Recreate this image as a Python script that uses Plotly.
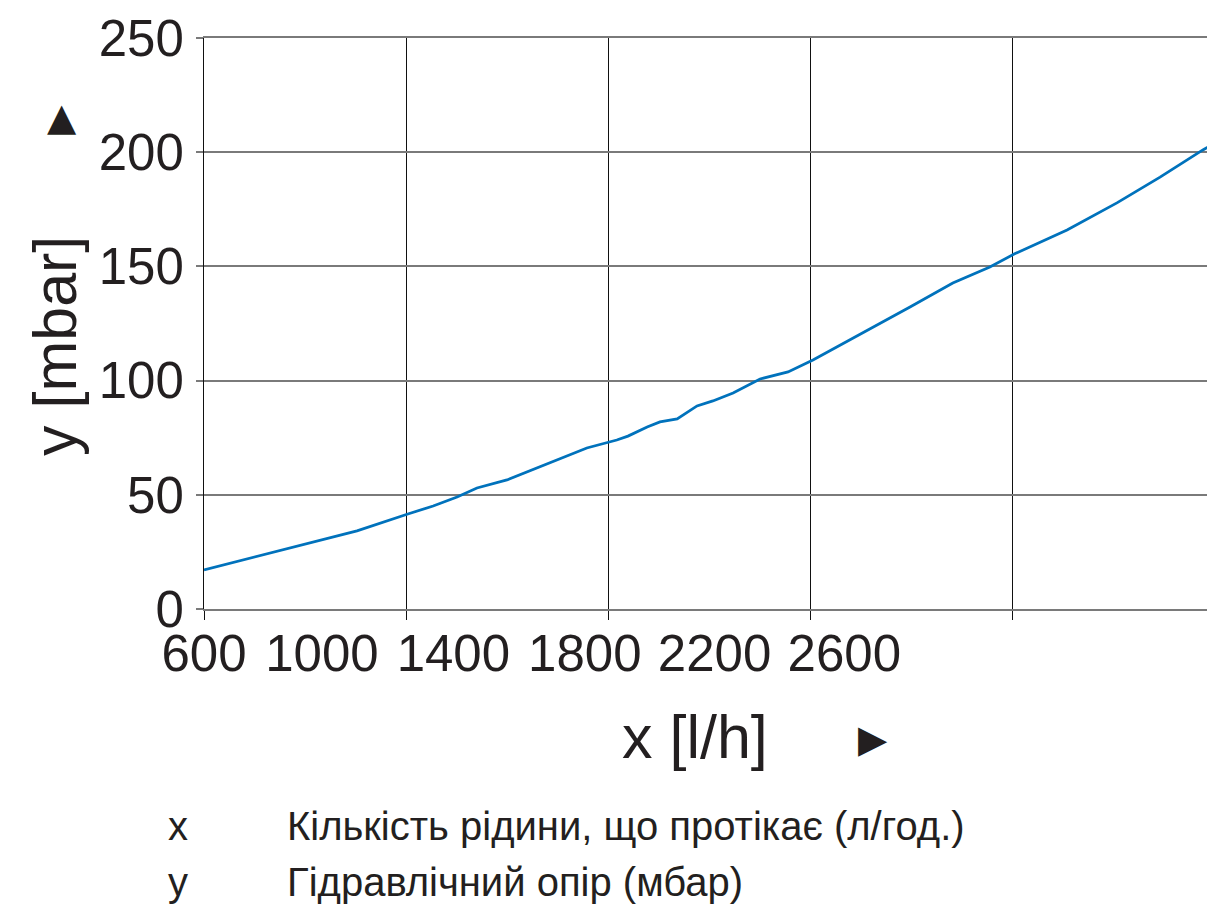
import plotly.graph_objects as go

# Data
flow_lh = [600, 1054, 1205, 1280, 1351, 1410, 1499, 1558, 1636, 1736, 1825, 1858, 1915,
           1953, 2004, 2063, 2110, 2170, 2250, 2333, 2407, 2567, 2695, 2822, 2932, 3004,
           3161, 3309, 3437, 3564, 3600]
resistance_mbar = [17.1, 34.2, 41.6, 45.1, 49.0, 53.0, 56.5, 60.0, 64.4, 70.5, 74.0, 75.7, 79.7,
                   81.9, 83.2, 88.9, 91.1, 94.6, 100.7, 103.8, 109.0, 121.7, 132.2, 142.7, 149.7, 155.4,
                   165.9, 177.8, 189.1, 201.0, 204.0]

grid_x = [600, 1200, 1800, 2400, 3000]
x_label_pos = [600, 950, 1340, 1730, 2115, 2500]
x_label_text = ["600", "1000", "1400", "1800", "2200", "2600"]
y_ticks = [0, 50, 100, 150, 200, 250]

x_title = "x [l/h]"
y_title = "y [mbar]"
legend_keys = ["x", "y"]
legend_desc = ["Кількість рідини, що протікає (л/год.)", "Гідравлічний опір (мбар)"]

FONT = "Liberation Sans, Arial, sans-serif"
TXT = "#231f20"
GRAY = "#7a7a7a"

fig = go.Figure()
fig.add_trace(go.Scatter(x=flow_lh, y=resistance_mbar, mode="lines",
                         line=dict(color="#0072bc", width=2.8), hoverinfo="skip",
                         showlegend=False))
# carrier trace for the label axis
fig.add_trace(go.Scatter(x=x_label_pos, y=[None] * len(x_label_pos), xaxis="x2", yaxis="y",
                         mode="lines", hoverinfo="skip", showlegend=False))

# page body has an 8px default margin: size the figure to compensate
fig.update_layout(
    width=1207, height=902,
    margin=dict(l=196, r=0, t=30, b=301),
    paper_bgcolor="white", plot_bgcolor="white",
    showlegend=False,
    font=dict(family=FONT, color=TXT),
    xaxis=dict(range=[600, 3600], tickvals=grid_x, showticklabels=False,
               ticks="outside", ticklen=9, tickcolor="#111111", tickwidth=1,
               showgrid=True, gridcolor="#111111", gridwidth=1,
               showline=True, linecolor=GRAY, linewidth=2, mirror=True,
               zeroline=False),
    xaxis2=dict(range=[600, 3600], overlaying="x", anchor="y", side="bottom",
                tickvals=x_label_pos, ticktext=x_label_text, ticks="",
                showgrid=False, showline=False, zeroline=False,
                tickfont=dict(size=51, family=FONT, color=TXT),
                ticklabelstandoff=10),
    yaxis=dict(range=[0, 250], tickvals=y_ticks, ticks="outside", ticklen=7,
               tickcolor=GRAY, tickwidth=2,
               showgrid=True, gridcolor=GRAY, gridwidth=2,
               showline=True, linecolor="#111111", linewidth=1, zeroline=False,
               tickfont=dict(size=51, family=FONT, color=TXT),
               ticklabelstandoff=2),
)

def px2paper(px, py):
    return (px - 204) / 1011.0, (609 - py) / 571.0

ann = []
x0, y0 = px2paper(55, 346)
ann.append(dict(x=x0, y=y0, xref="paper", yref="paper", text=y_title, textangle=-90,
                showarrow=False, xanchor="center", yanchor="middle",
                font=dict(size=61, family=FONT, color=TXT)))
x0, y0 = px2paper(695, 737)
ann.append(dict(x=x0, y=y0, xref="paper", yref="paper", text=x_title,
                showarrow=False, xanchor="center", yanchor="middle",
                font=dict(size=61, family=FONT, color=TXT)))
x0, y0 = px2paper(62, 117)
ann.append(dict(x=x0, y=y0, xref="paper", yref="paper", text="▲",
                showarrow=False, xanchor="center", yanchor="middle",
                font=dict(size=38, family="DejaVu Sans", color=TXT)))
x0, y0 = px2paper(873, 739)
ann.append(dict(x=x0, y=y0, xref="paper", yref="paper", text="▶",
                showarrow=False, xanchor="center", yanchor="middle",
                font=dict(size=38, family="DejaVu Sans", color=TXT)))
for i, (k, d) in enumerate(zip(legend_keys, legend_desc)):
    py = 826 + 56 * i
    x0, y0 = px2paper(178, py)
    ann.append(dict(x=x0, y=y0, xref="paper", yref="paper", text=k,
                    showarrow=False, xanchor="center", yanchor="middle",
                    font=dict(size=40, family=FONT, color=TXT)))
    x1, _ = px2paper(285, py)
    ann.append(dict(x=x1, y=y0, xref="paper", yref="paper", text=d,
                    showarrow=False, xanchor="left", yanchor="middle",
                    font=dict(size=40, family=FONT, color=TXT)))
fig.update_layout(annotations=ann)

fig.write_html("out.html")
